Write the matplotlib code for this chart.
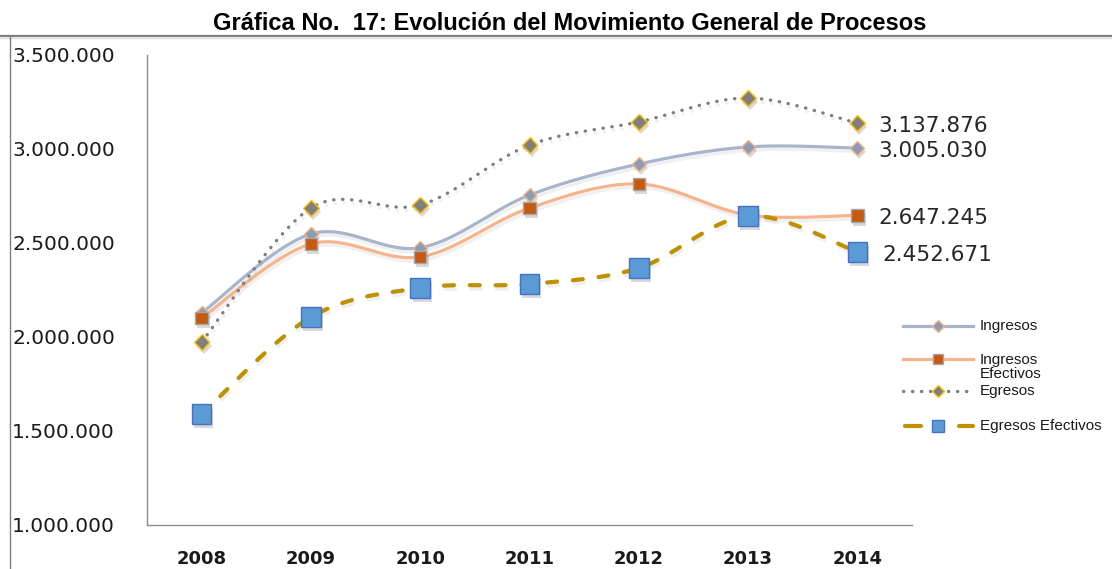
import numpy as np
import matplotlib
matplotlib.use("Agg")
import matplotlib.pyplot as plt
from matplotlib.lines import Line2D
import matplotlib.patheffects as pe

# ---------------- data ----------------
years = ["2008", "2009", "2010", "2011", "2012", "2013", "2014"]
ingresos = [2128000, 2548000, 2475000, 2755000, 2920000, 3011000, 3005030]
ingresos_efectivos = [2101000, 2495000, 2426000, 2686000, 2814000, 2649000, 2647245]
egresos = [1973000, 2686000, 2702000, 3021000, 3144000, 3271000, 3137876]
egresos_efectivos = [1590000, 2106000, 2261000, 2282000, 2367000, 2644000, 2452671]
labels_last = ["3.005.030", "2.647.245", "3.137.876", "2.452.671"]
series_names = ["Ingresos", "Ingresos\nEfectivos", "Egresos", "Egresos Efectivos"]
yticks = [1000000, 1500000, 2000000, 2500000, 3000000, 3500000]
ytick_labels = ["1.000.000", "1.500.000", "2.000.000", "2.500.000", "3.000.000", "3.500.000"]
title = "Gráfica No.  17: Evolución del Movimiento General de Procesos"

W, H = 1112, 569
fig = plt.figure(figsize=(W / 100, H / 100), dpi=100)
fig.patch.set_facecolor("white")

def fx(px):
    return px / W

def fy(py):
    return 1 - py / H

ax = fig.add_axes([fx(147), fy(525), fx(912) - fx(147), fy(55) - fy(525)])


def smooth(xs, ys, n=40):
    pts = np.column_stack([np.asarray(xs, float), np.asarray(ys, float)])
    out = []
    for i in range(len(pts) - 1):
        p0 = pts[i - 1] if i > 0 else pts[i]
        p1 = pts[i]
        p2 = pts[i + 1]
        p3 = pts[i + 2] if i + 2 < len(pts) else pts[i + 1]
        c1 = p1 + (p2 - p0) / 6.0
        c2 = p2 - (p3 - p1) / 6.0
        t = np.linspace(0, 1, n)[:, None]
        seg = (1 - t) ** 3 * p1 + 3 * (1 - t) ** 2 * t * c1 + 3 * (1 - t) * t ** 2 * c2 + t ** 3 * p2
        out.append(seg if i == 0 else seg[1:])
    return np.vstack(out)


x = np.arange(len(years))
line_shadow = [pe.SimpleLineShadow(offset=(1.0, -2.5), alpha=0.06, shadow_color="black"), pe.Normal()]
mark_shadow = [pe.SimplePatchShadow(offset=(1.5, -3.0), alpha=0.22, shadow_rgbFace="#555555"), pe.Normal()]

styles = [
    dict(vals=ingresos, lc="#A7B5CB", lw=2.3, ls="-", cap="butt", mk="D", ms=7, mfc="#8C9CB5", mec="#F4B183", mew=1.0),
    dict(vals=ingresos_efectivos, lc="#F6B48C", lw=2.3, ls="-", cap="butt", mk="s", ms=9, mfc="#C55A11", mec="#A6A6A6", mew=1.0),
    dict(vals=egresos, lc="#7F7F7F", lw=2.4, ls=(0, (0.1, 2.6)), cap="round", mk="D", ms=8, mfc="#7F7F7F", mec="#FFC000", mew=1.0),
    dict(vals=egresos_efectivos, lc="#BF9000", lw=3.0, ls=(0, (2.4, 3.8)), cap="round", mk="s", ms=14, mfc="#5B9BD5", mec="#4472C4", mew=1.0),
]

for i, s in enumerate(styles):
    curve = smooth(x, s["vals"])
    ln, = ax.plot(curve[:, 0], curve[:, 1], color=s["lc"], lw=s["lw"], linestyle=s["ls"],
                  zorder=2 + 2 * i, path_effects=line_shadow)
    ln.set_dash_capstyle(s["cap"])
    ax.plot(x, s["vals"], linestyle="none", marker=s["mk"], ms=s["ms"], mfc=s["mfc"],
            mec=s["mec"], mew=s["mew"], zorder=3 + 2 * i, path_effects=mark_shadow)

# data labels on the last point
label_vals = [ingresos[-1], ingresos_efectivos[-1], egresos[-1], egresos_efectivos[-1]]
label_dx = [15, 15, 15, 18]
for v, t, dx in zip(label_vals, labels_last, label_dx):
    ax.annotate(t, xy=(x[-1], v), xytext=(dx, -2.2), textcoords="offset points",
                ha="left", va="center", fontsize=15.5, color="#262626",
                family="DejaVu Sans", annotation_clip=False)

ax.set_xlim(-0.5, len(years) - 0.5)
ax.set_ylim(1000000, 3500000)
ax.set_xticks(x)
ax.set_xticklabels(years, fontsize=13, fontweight="bold", family="DejaVu Sans", color="#1a1a1a")
ax.set_yticks(yticks)
ax.set_yticklabels(ytick_labels, fontsize=14.5, family="DejaVu Sans", color="#1a1a1a")
ax.tick_params(axis="x", length=0, pad=18)
ax.tick_params(axis="y", length=0, pad=97)
for lab in ax.get_yticklabels():
    lab.set_horizontalalignment("left")
for side in ["top", "right"]:
    ax.spines[side].set_visible(False)
for side in ["left", "bottom"]:
    ax.spines[side].set_color("#8C8C8C")
    ax.spines[side].set_linewidth(1.0)

# ---------------- legend (manual, figure coords) ----------------
leg_rows = [326, 359, 391, 426]
leg_text_y = [326, 367, 391, 426]
for i, (s, name) in enumerate(zip(styles, series_names)):
    yy = fy(leg_rows[i])
    if i == 3:
        for a, b in [(905, 921), (959, 973)]:
            fig.add_artist(Line2D([fx(a), fx(b)], [yy, yy], color=s["lc"], lw=s["lw"],
                                  solid_capstyle="round"))
    else:
        l = Line2D([fx(903), fx(973)], [yy, yy], color=s["lc"], lw=s["lw"], linestyle=s["ls"])
        l.set_dash_capstyle("round")
        fig.add_artist(l)
    ms = {0: 6, 1: 7, 2: 6, 3: 9}[i]
    fig.add_artist(Line2D([fx(938)], [yy], linestyle="none", marker=s["mk"], ms=ms,
                          mfc=s["mfc"], mec=s["mec"], mew=1.0))
    fig.text(fx(980), fy(leg_text_y[i]), name, ha="left", va="center", fontsize=11,
             family="Liberation Sans", color="#1a1a1a", linespacing=1.0)

# ---------------- frame and title ----------------
fig.add_artist(Line2D([0, 1], [fy(36), fy(36)], color="#7F7F7F", lw=1.6))
fig.add_artist(Line2D([0, 1], [fy(38), fy(38)], color="#E0E0E0", lw=1.0))
fig.add_artist(Line2D([fx(10), fx(10)], [fy(37), 0], color="#7F7F7F", lw=1.0))
fig.text(fx(570), fy(30), title, ha="center", va="baseline", fontsize=17,
         fontweight="bold", family="Liberation Sans", color="black")

fig.savefig("out.png", dpi=100, facecolor="white")
